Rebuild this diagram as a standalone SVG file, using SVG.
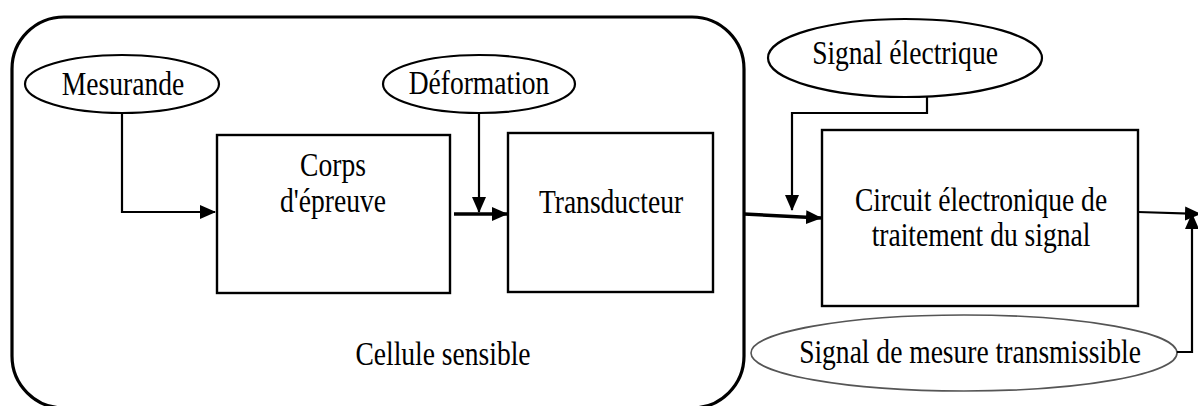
<svg xmlns="http://www.w3.org/2000/svg" width="1198" height="406" viewBox="0 0 1198 406">
  <defs>
    <marker id="arr" markerUnits="userSpaceOnUse" markerWidth="16" markerHeight="16" viewBox="0 0 16 16" refX="15" refY="8" orient="auto">
      <path d="M0,1 L16,8 L0,15 Z" fill="#000"/>
    </marker>
    <style>
      .lbl { font-family: "Liberation Serif", "Times New Roman", serif; font-size: 34px; fill: #000; text-anchor: middle; }
      .box { fill: #fff; stroke: #000; stroke-width: 2.4; }
      .ell { fill: #fff; stroke: #000; stroke-width: 2.2; }
      .ln { fill: none; stroke: #000; stroke-width: 2.2; }
      .thick { fill: none; stroke: #000; stroke-width: 3.4; }
    </style>
  </defs>
  <rect width="1198" height="406" fill="#fff"/>

  <!-- sensing cell outline -->
  <g id="cellule">
    <rect x="12" y="17" width="732" height="391" rx="52" ry="52" fill="none" stroke="#000" stroke-width="3.2"/>
    <text class="lbl" transform="translate(443,365) scale(0.81,1)">Cellule sensible</text>
  </g>

  <g id="mesurande">
    <ellipse class="ell" cx="122" cy="84" rx="97" ry="29"/>
    <text class="lbl" transform="translate(123,95) scale(0.81,1)">Mesurande</text>
  </g>

  <g id="deformation">
    <ellipse class="ell" cx="479" cy="84" rx="96" ry="29"/>
    <text class="lbl" transform="translate(479,94) scale(0.81,1)">Déformation</text>
  </g>

  <g id="corps">
    <rect class="box" x="217" y="135" width="233" height="158"/>
    <text class="lbl" transform="translate(333,176) scale(0.81,1)">Corps</text>
    <text class="lbl" transform="translate(333,212) scale(0.81,1)">d'épreuve</text>
  </g>

  <g id="transducteur">
    <rect class="box" x="508" y="133" width="205" height="159"/>
    <text class="lbl" transform="translate(611,213) scale(0.81,1)">Transducteur</text>
  </g>

  <g id="signal-electrique">
    <ellipse class="ell" cx="905" cy="58" rx="137" ry="39"/>
    <text class="lbl" transform="translate(905,64) scale(0.81,1)">Signal électrique</text>
  </g>

  <g id="circuit">
    <rect class="box" x="822" y="130" width="316" height="176"/>
    <text class="lbl" transform="translate(981,211) scale(0.81,1)">Circuit électronique de</text>
    <text class="lbl" transform="translate(981,246) scale(0.81,1)">traitement du signal</text>
  </g>

  <g id="signal-mesure">
    <ellipse cx="964" cy="353" rx="213" ry="38" fill="#fff" stroke="#555" stroke-width="1.6"/>
    <text class="lbl" transform="translate(970,363) scale(0.81,1)">Signal de mesure transmissible</text>
  </g>

  <g id="connectors">
    <path class="ln" d="M122,113 V212 H215" marker-end="url(#arr)"/>
    <path class="ln" d="M479,113 V212" marker-end="url(#arr)"/>
    <path class="thick" d="M454,214 H507" marker-end="url(#arr)"/>
    <path class="thick" d="M744,214 L821,218" marker-end="url(#arr)"/>
    <path class="ln" d="M927,97 V113 H792 V210" marker-end="url(#arr)"/>
    <path class="ln" d="M1138,212 L1200,214" marker-end="url(#arr)"/>
    <path class="ln" d="M1177,352 H1192 V214" marker-end="url(#arr)"/>
  </g>
</svg>
